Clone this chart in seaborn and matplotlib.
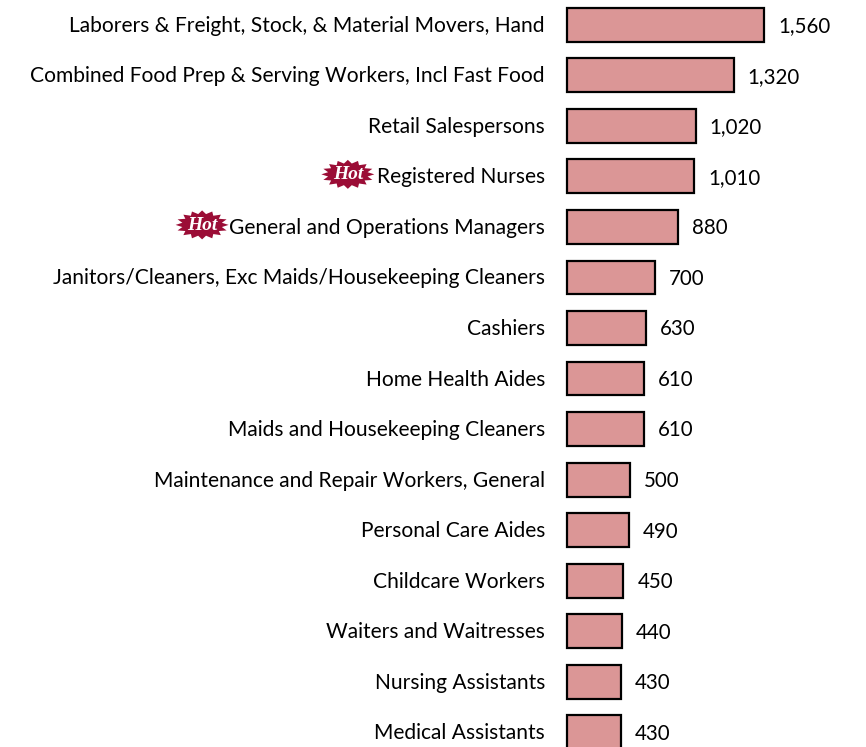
import numpy as np
import pandas as pd
import seaborn as sns
import matplotlib.pyplot as plt
from matplotlib.patches import Polygon
from matplotlib.transforms import IdentityTransform, ScaledTranslation

occupations = [
    'Laborers & Freight, Stock, & Material Movers, Hand',
    'Combined Food Prep & Serving Workers, Incl Fast Food',
    'Retail Salespersons',
    'Registered Nurses',
    'General and Operations Managers',
    'Janitors/Cleaners, Exc Maids/Housekeeping Cleaners',
    'Cashiers',
    'Home Health Aides',
    'Maids and Housekeeping Cleaners',
    'Maintenance and Repair Workers, General',
    'Personal Care Aides',
    'Childcare Workers',
    'Waiters and Waitresses',
    'Nursing Assistants',
    'Medical Assistants',
]
openings = [1560, 1320, 1020, 1010, 880, 700, 630, 610, 610, 500, 490, 450, 440, 430, 430]
hot_jobs = {'Registered Nurses': 29, 'General and Operations Managers': 27}

W, H = 866, 747
BAR_LEFT = 566.5
PX_PER_UNIT = 0.1266
ROW_TOP = 24.7
ROW_STEP = 50.55

sns.set_theme(style='white')
plt.rcParams['font.family'] = ['Lato', 'DejaVu Sans']

df = pd.DataFrame({'occupation': occupations, 'openings': openings})

fig = plt.figure(figsize=(W / 100, H / 100), dpi=100)
ax = fig.add_axes([BAR_LEFT / W, 0, 1 - BAR_LEFT / W, 1])

sns.barplot(data=df, x='openings', y='occupation', orient='h', color='#DB9696',
            saturation=1, edgecolor='black', linewidth=1.6, width=0.67, ax=ax)

ax.set_xlim(0, (W - BAR_LEFT) / PX_PER_UNIT)
ax.set_ylim((H - ROW_TOP) / ROW_STEP, -ROW_TOP / ROW_STEP)
ax.set_xlabel('')
ax.set_ylabel('')
ax.set_xticks([])
ax.tick_params(axis='y', length=0, pad=15.5, labelsize=15.1, labelcolor='black')
sns.despine(ax=ax, left=True, bottom=True)

# nudge the row labels up a touch
nudge = ScaledTranslation(0, 1 / 100, fig.dpi_scale_trans)
for tick in ax.get_yticklabels():
    tick.set_transform(tick.get_transform() + nudge)

for bars in ax.containers:
    value_labels = ax.bar_label(bars, labels=[f'{v:,}' for v in openings], padding=10,
                                fontsize=14.8, color='black', clip_on=False)
    for label in value_labels:
        label.xyann = (10, -1)
for bar in ax.patches:
    bar.set_clip_on(False)

# "Hot" badges sit just left of their label
fig.canvas.draw()
renderer = fig.canvas.get_renderer()
for tick in ax.get_yticklabels():
    if tick.get_text() not in hot_jobs:
        continue
    box = tick.get_window_extent(renderer)
    cx = box.x0 - hot_jobs[tick.get_text()]
    cy = (box.y0 + box.y1) / 2 + 3
    ang = np.linspace(0, 2 * np.pi, 32, endpoint=False)
    rad = np.where(np.arange(32) % 2 == 0, 1.0, 0.76)
    pts = np.column_stack([cx + 26.5 * rad * np.cos(ang), cy + 14.5 * rad * np.sin(ang)])
    fig.add_artist(Polygon(pts, closed=True, facecolor='#9B0D36', edgecolor='none',
                           transform=IdentityTransform()))
    fig.text(cx, cy - 0.5, 'Hot', transform=IdentityTransform(), color='white', ha='center',
             va='center', fontsize=14, fontstyle='italic', fontweight='bold',
             family=['Liberation Serif'])

fig.savefig('out.png', dpi=100)
